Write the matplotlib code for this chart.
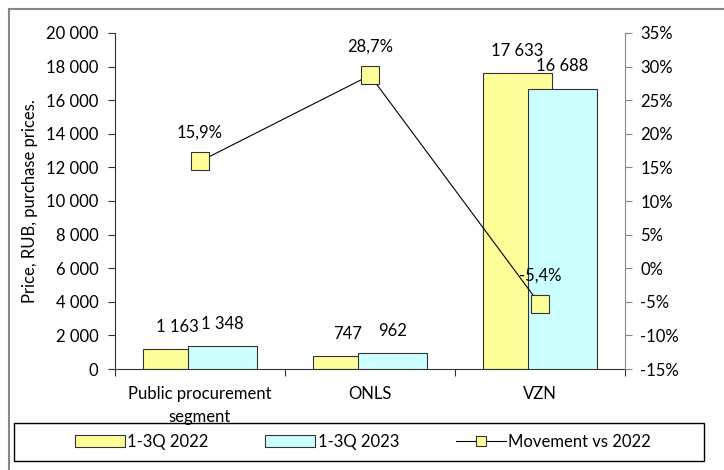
import numpy as np
import matplotlib
matplotlib.use('Agg')
import matplotlib.pyplot as plt
from matplotlib.lines import Line2D
from matplotlib.patches import Rectangle
from matplotlib.ticker import FuncFormatter, MultipleLocator

categories = ['Public procurement\nsegment', 'ONLS', 'VZN']
prices_2022 = [1163, 747, 17633]
prices_2023 = [1348, 962, 16688]
movement = [15.9, 28.7, -5.4]

plt.rcParams['font.family'] = ['Lato', 'DejaVu Sans']
plt.rcParams['font.size'] = 12

fig = plt.figure(figsize=(7.24, 4.7), dpi=100)
ax = fig.add_axes([115 / 724, 1 - 369 / 470, 510 / 724, 336 / 470])

x = np.arange(len(categories))
width = 0.406
offset = 0.132

bars_22 = ax.bar(x - offset, prices_2022, width, color='#FFFF99', edgecolor='#333333', linewidth=0.8, label='1-3Q 2022', zorder=2)
bars_23 = ax.bar(x + offset, prices_2023, width, color='#CCFFFF', edgecolor='#333333', linewidth=0.8, label='1-3Q 2023', zorder=3)

for bars in (bars_22, bars_23):
    for b in bars:
        val = b.get_height()
        ax.annotate(f'{val:,.0f}'.replace(',', ' '), (b.get_x() + b.get_width() / 2, val),
                    xytext=(0, 16), textcoords='offset points', ha='center', va='center', zorder=5)

ax.set_xlim(-0.5, 2.5)
ax.set_ylim(0, 20000)
ax.yaxis.set_major_locator(MultipleLocator(2000))
ax.yaxis.set_major_formatter(FuncFormatter(lambda v, p: f'{v:,.0f}'.replace(',', ' ')))
ax.set_xticks([-0.5, 0.5, 1.5, 2.5])
ax.set_xticklabels([])
ax.set_xticks(x, minor=True)
ax.set_xticklabels(categories, minor=True, linespacing=1.6)
ax.tick_params(axis='x', which='minor', length=0, pad=12)
ax.tick_params(axis='x', which='major', length=5, color='#333333')
ax.tick_params(axis='y', length=5, color='#333333', pad=7)
ax.set_ylabel('Price, RUB, purchase prices.', labelpad=6)
ax.spines['top'].set_visible(False)
ax.spines['right'].set_visible(False)
ax.spines['left'].set_color('#333333')
ax.spines['bottom'].set_color('#333333')

ax2 = ax.twinx()
line, = ax2.plot(x, movement, color='black', linewidth=0.8, marker='s', markersize=13,
                 markerfacecolor='#FFFF99', markeredgecolor='#333333', markeredgewidth=0.8,
                 label='Movement vs 2022', zorder=4)
for xi, m in zip(x, movement):
    ax2.annotate(f'{m:.1f}%'.replace('.', ','), (xi, m), xytext=(0, 21), textcoords='offset points',
                 ha='center', va='center')
ax2.set_ylim(-15, 35)
ax2.yaxis.set_major_locator(MultipleLocator(5))
ax2.yaxis.set_major_formatter(FuncFormatter(lambda v, p: f'{v:.0f}%'))
ax2.tick_params(axis='y', length=5, color='#888888', pad=6)
for s in ('top', 'left', 'bottom'):
    ax2.spines[s].set_visible(False)
ax2.spines['right'].set_color('#888888')

# legend box drawn separately so it can be wider than its entries
fig.add_artist(Rectangle((14 / 724, 1 - 461 / 470), 690 / 724, 38 / 470, transform=fig.transFigure,
                         facecolor='none', edgecolor='black', linewidth=1, zorder=1))
fig.legend(handles=[bars_22, bars_23, line], loc='center', ncol=3,
           bbox_to_anchor=(363 / 724, 1 - 442 / 470), frameon=False,
           handlelength=3.0, markerscale=0.6, handletextpad=0.15, columnspacing=3.4)

fig.add_artist(Line2D([9 / 724, 9 / 724], [0, 1 - 9 / 470], color='#888888', linewidth=1.5))
fig.add_artist(Line2D([9 / 724, 1], [1 - 9 / 470, 1 - 9 / 470], color='#888888', linewidth=1.5))

fig.savefig('out.png', dpi=100)
